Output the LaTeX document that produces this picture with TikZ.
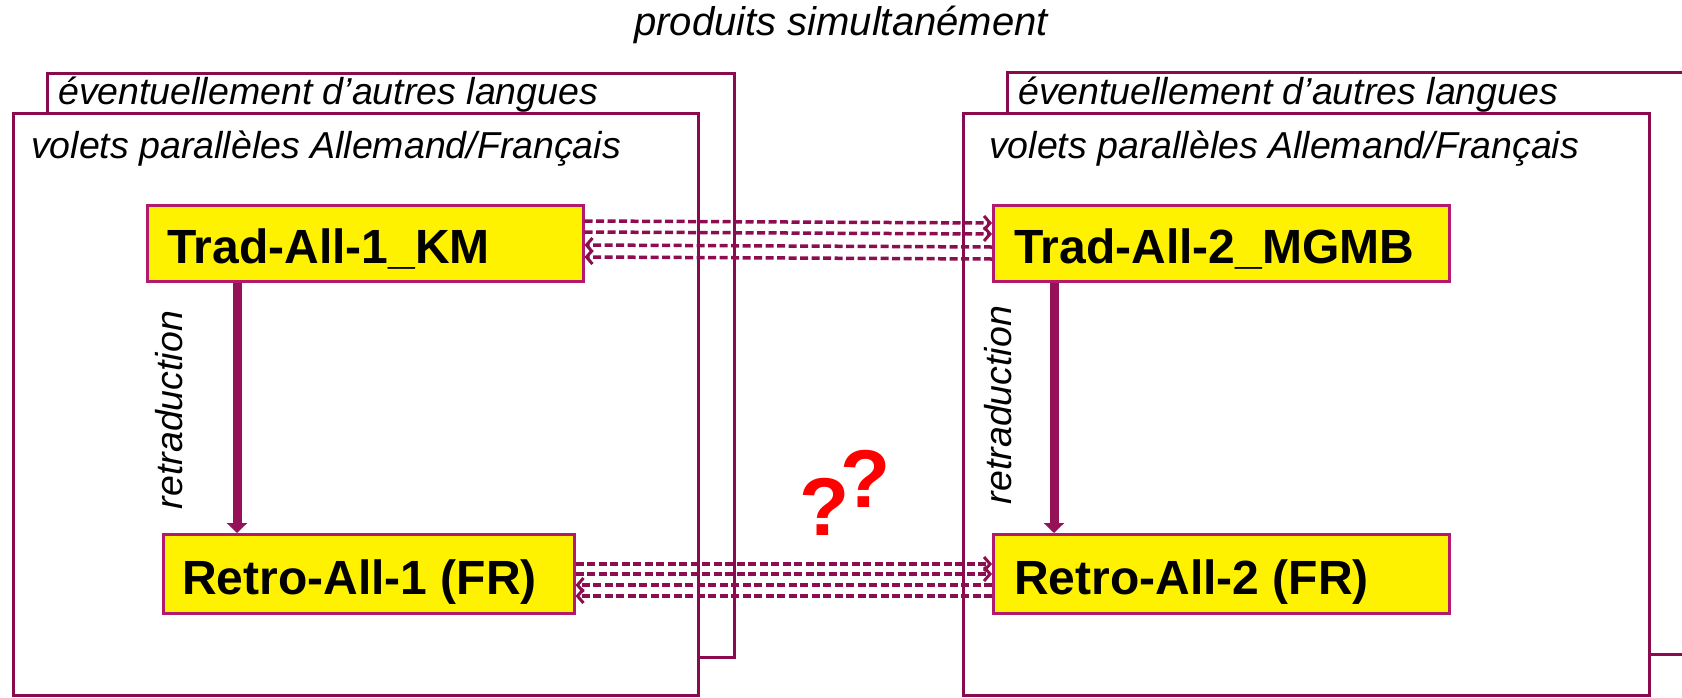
\documentclass[tikz,border=0pt]{standalone}
\usepackage{fontspec}
\setmainfont{Liberation Sans}
\usetikzlibrary{arrows.meta}
\definecolor{framec}{RGB}{138,10,78}
\definecolor{boxedge}{RGB}{178,26,110}
\definecolor{boxfill}{RGB}{255,242,0}
\definecolor{arrc}{RGB}{140,14,80}
\definecolor{varrc}{RGB}{150,18,88}
\begin{document}
\begin{tikzpicture}[x=1pt,y=-1pt,
  frm/.style={draw=framec,line width=3pt,fill=white},
  ybox/.style={draw=boxedge,line width=2.5pt,fill=boxfill,inner sep=0pt,anchor=north west},
  blab/.style={anchor=base west,inner sep=0pt,font=\fontsize{48}{50}\selectfont\bfseries},
  ilab/.style={anchor=base west,inner sep=0pt,font=\fontsize{37.5}{40}\selectfont\itshape},
  rlab/.style={inner sep=0pt,rotate=90,font=\fontsize{37.5}{40}\selectfont\itshape},
  darr/.style={draw=arrc,line width=3.5pt,dash pattern=on 8pt off 3.5pt,-{Straight Barb[length=6pt,width=14pt,line width=3pt]}},
  varr/.style={draw=varrc,line width=9pt,-{Triangle[width=20pt,length=10pt]}},
  qm/.style={anchor=base,inner sep=0pt,text=red,font=\fontsize{82}{84}\selectfont\bfseries}]
\clip (0,0) rectangle (1682,697);
\fill[white] (0,0) rectangle (1682,697);
% title
\node[anchor=base,inner sep=0pt,font=\fontsize{40}{42}\selectfont\itshape] (title) at (841,35) {produits simultanément};
% left frames
\draw[frm] (47,73) rectangle (734,657);
\node[ilab] (lb) at (58,104) {éventuellement d’autres langues};
\draw[frm] (13,113) rectangle (698,695);
\node[ilab] (lf) at (31,158) {volets parallèles Allemand/Français};
% right frames
\draw[frm] (1007,72) rectangle (1720,654);
\node[ilab] (rb) at (1018,104) {éventuellement d’autres langues};
\draw[frm] (963,113) rectangle (1649,695);
\node[ilab] (rf) at (989,158) {volets parallèles Allemand/Français};
% yellow boxes
\node[ybox,minimum width=436pt,minimum height=76pt] (t1) at (146,204) {};
\node[ybox,minimum width=411pt,minimum height=79pt] (r1) at (162,533) {};
\node[ybox,minimum width=456pt,minimum height=76pt] (t2) at (992,204) {};
\node[ybox,minimum width=456pt,minimum height=79pt] (r2) at (992,533) {};
\node[blab] (t1l) at (167,263) {Trad-All-1\_KM};
\node[blab] (r1l) at (182,594) {Retro-All-1 (FR)};
\node[blab] (t2l) at (1014,263) {Trad-All-2\_MGMB};
\node[blab] (r2l) at (1014,594) {Retro-All-2 (FR)};
% vertical arrows
\draw[varr] ([xshift=91pt]t1.south west) -- ([xshift=75pt]r1.north west);
\draw[varr] ([xshift=62pt]t2.south west) -- ([xshift=62pt]r2.north west);
\node[rlab] (rt1) at (169,410) {retraduction};
\node[rlab] (rt2) at (998,405) {retraduction};
% dashed arrows top
\draw[darr] ([yshift=-17pt]t1.north east) -- ([yshift=-19pt]t2.north west);
\draw[darr] ([yshift=-28pt]t1.north east) -- ([yshift=-30pt]t2.north west);
\draw[darr] ([yshift=-43pt]t2.north west) -- ([yshift=-41pt]t1.north east);
\draw[darr] ([yshift=-55pt]t2.north west) -- ([yshift=-53pt]t1.north east);
% dashed arrows bottom
\draw[darr] ([yshift=-31pt]r1.north east) -- ([yshift=-31pt]r2.north west);
\draw[darr] ([yshift=-41pt]r1.north east) -- ([yshift=-41pt]r2.north west);
\draw[darr] ([yshift=-52pt]r2.north west) -- ([yshift=-52pt]r1.north east);
\draw[darr] ([yshift=-63pt]r2.north west) -- ([yshift=-63pt]r1.north east);
% question marks
\node[qm] (q1) at (825,535) {?};
\node[qm] (q2) at (866,507) {?};
\end{tikzpicture}
\end{document}
